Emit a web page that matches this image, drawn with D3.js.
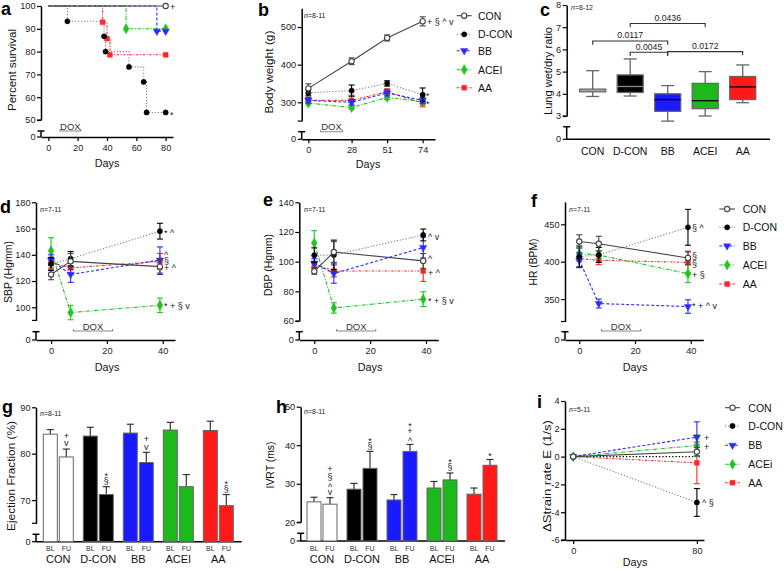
<!DOCTYPE html>
<html><head><meta charset="utf-8">
<script src="https://cdn.jsdelivr.net/npm/d3@7"></script>
<style>
body{margin:0;background:#fff;}
svg{font-family:"Liberation Sans",Arial,Helvetica,sans-serif;}
</style></head><body>
<svg id="c" width="784" height="571"></svg>
<script>
// ================= DATA =================
const groups  = ["CON","D-CON","BB","ACEI","AA"];
const groupsI = ["CON","D-CON","BB","ACEi","AA"];
const doxDays = [8, 22];

// a: Kaplan-Meier survival, [day, percent]
const survCON  = [[0,100],[80,100]];
const survDCON = [[0,100],[13,93.3],[38,86.7],[39,80],[55,73.3],[65,66.7],[67,53.3],[80,53.3]];
const survBB   = [[0,100],[74,88.9],[80,88.9]];
const survACEI = [[0,100],[53,90],[80,90]];
const survAA   = [[0,100],[37,92.9],[40,85.7],[42,78.6],[80,78.6]];
const survTicksX = [0,20,40,60,80];
const survTicksY = [50,60,70,80,90,100];

// b: body weight (g)
const bwDays = [0,28,51,74];
const bwCON  = [337,409,471,515], bwCONe  = [12,9,8,12];
const bwDCON = [325,331,350,320], bwDCONe = [8,15,7,18];
const bwBB   = [305,300,325,305], bwBBe   = [7,7,8,8];
const bwACEI = [298,286,313,302], bwACEIe = [5,5,6,6];
const bwAA   = [305,305,328,298], bwAAe   = [8,14,8,10];
const bwTicksY = [300,400,500];

// c: lung wet/dry ratio  [min, q1, median, q3, max]
const lungCON  = [3.88,4.09,4.17,4.21,5.04];
const lungDCON = [3.90,4.06,4.33,4.85,5.57];
const lungBB   = [2.77,3.21,3.74,4.00,4.37];
const lungACEI = [3.00,3.33,3.69,4.47,5.00];
const lungAA   = [3.60,3.74,4.31,4.78,5.30];
const lungTicksY = [3,4,5,6,7,8];
const lungPairs = [["CON","BB"],["D-CON","ACEI"],["D-CON","BB"],["BB","AA"]];
const lungPvals = ["0.0117","0.0436","0.0045","0.0172"];
const lungPlevels = [6.38,7.17,5.87,5.90];

// d, e, f: blood pressure & HR
const bpDays = [0,7,39];
const sbpCON  = [125,135,131],   sbpCONe  = [4,6,6];
const sbpDCON = [133,137,158],   sbpDCONe = [5,5.5,6];
const sbpBB   = [136,125,136],   sbpBBe   = [4,6,10];
const sbpACEI = [143,96,101.5],  sbpACEIe = [10,5.5,5.5];
const sbpAA   = [134,130,135],   sbpAAe   = [4,4,6];
const sbpTicksY = [100,120,140,160,180];

const dbpCON  = [93.5,106.5,100.5], dbpCONe  = [2,7,5];
const dbpDCON = [104.3,104.5,118],  dbpDCONe = [5,10,4];
const dbpBB   = [99,92,109.5],      dbpBBe   = [3,6.5,7];
const dbpACEI = [112.6,68.8,74.7],  dbpACEIe = [8.3,3.5,5];
const dbpAA   = [98.2,93.7,93.7],   dbpAAe   = [2,4,7];
const dbpTicksY = [60,80,100,120,140];

const hrCON  = [427,424,405], hrCONe  = [9,10,9];
const hrDCON = [407,409,446], hrDCONe = [14,10,24];
const hrBB   = [402,344,340], hrBBe   = [10,6,9];
const hrACEI = [411,409,384], hrACEIe = [8,6,12];
const hrAA   = [404,402,399], hrAAe   = [3,6,14];
const hrTicksY = [350,400,450];
const bpTicksX = [0,20,40];

// g: ejection fraction (%)
const efBL = [84.2,83.8,84.45,85.1,85.0], efBLe = [1.0,1.9,1.9,1.65,2.0];
const efFU = [79.3,71.2,78.1,72.9,68.8],  efFUe = [1.7,1.7,2.2,2.6,2.4];
const efSig = [["+","v"],["*","§"],["+","v"],[],["*","§"]];
const efTicksY = [70,80,90];

// h: IVRT (ms)
const ivBL = [25.3,28.6,25.8,28.9,27.3], ivBLe = [1.2,1.5,1.4,1.7,1.6];
const ivFU = [24.7,34.0,38.4,31.0,34.8], ivFUe = [1.7,4.4,1.8,1.8,1.5];
const ivSig = [["+","§","^","v"],["*","§"],["*","+","^"],["*","§"],["*"]];
const ivTicksY = [20,30,40,50];

// i: delta strain rate E (1/s)
const srDays = [0,80];
const srCON  = [0,0.35],  srCONe  = [0,0.3];
const srDCON = [0,-3.3],  srDCONe = [0,1.0];
const srBB   = [0,1.4],   srBBe   = [0,1.1];
const srACEI = [0,0.8],   srACEIe = [0,0.75];
const srAA   = [0,-0.45], srAAe   = [0,1.5];
const srTicksY = [-6,-4,-2,0,2,4];
const srTicksX = [0,80];

// ================= STYLE =================
const svg = d3.select("#c");
const TICK_FS = 9.2, TITLE_FS = 11, LEG_FS = 10.5, ANN_FS = 9;
const SER = [
  {stroke:"#444", lw:1.1, dash:null, mk:"circle", mfill:"#fff", mstroke:"#444", err:"#444", size:22},
  {stroke:"#808080", lw:1.1, dash:"1.2,1.8", mk:"circle", mfill:"#000", mstroke:"#000", err:"#000", size:22},
  {stroke:"#2b2bff", lw:1.1, dash:"3,2", mk:"tri", mfill:"#2b2bff", mstroke:"#2b2bff", err:"#2b2bff", size:24, rot:180},
  {stroke:"#22c422", lw:1.1, dash:"4,1.5,1,1.5", mk:"diamond", mfill:"#22c422", mstroke:"#22c422", err:"#22c422", size:30},
  {stroke:"#ff2424", lw:1.1, dash:"2.5,1.5,1,1.5", mk:"square", mfill:"#ff2424", mstroke:"#ff2424", err:"#ff2424", size:24}
];
const barFill = ["#ffffff","#000000","#1a1aff","#1cb81c","#ff1a1a"];
const DRAW_ORDER = [4,3,2,1,0];

function symPath(s){
  const t = {circle:d3.symbolCircle, square:d3.symbolSquare, diamond:d3.symbolDiamond, tri:d3.symbolTriangle}[s.mk];
  return d3.symbol().type(t).size(s.size)();
}
function marker(g, s, x, y){
  g.append("path").attr("d", symPath(s))
    .attr("transform", `translate(${x},${y})` + (s.rot ? ` rotate(${s.rot})` : ""))
    .attr("fill", s.mfill).attr("stroke", s.mstroke)
    .attr("stroke-width", s.mfill === "#fff" ? 1.1 : 0.4);
}
function axisStyle(sel){
  sel.select(".domain").attr("stroke","#000").attr("stroke-width",1.5);
  sel.selectAll(".tick line").attr("stroke","#000").attr("stroke-width",1.2);
  sel.selectAll(".tick text").attr("font-size",TICK_FS).attr("fill","#222")
    .attr("font-family",'"Liberation Sans",Arial,sans-serif');
}
function brokenYAxis(x0, y, ticks, cap, zero){
  const g = svg.append("g");
  const ax = g.append("g").attr("transform",`translate(${x0},0)`)
    .call(d3.axisLeft(y).tickValues(ticks).tickSize(4).tickPadding(1.5).tickSizeOuter(0).tickFormat(d=>String(d)));
  axisStyle(ax);
  const yb = Math.max(...y.range());
  g.append("line").attr("x1",x0-4).attr("x2",x0).attr("y1",yb).attr("y2",yb).attr("stroke","#000").attr("stroke-width",1.2);
  if(cap != null){
    g.append("line").attr("x1",x0).attr("x2",x0).attr("y1",cap).attr("y2",zero).attr("stroke","#000").attr("stroke-width",1.5);
    g.append("line").attr("x1",x0-3.5).attr("x2",x0+3.5).attr("y1",cap).attr("y2",cap).attr("stroke","#000").attr("stroke-width",1.5);
    g.append("line").attr("x1",x0-4).attr("x2",x0).attr("y1",zero).attr("y2",zero).attr("stroke","#000").attr("stroke-width",1.2);
    g.append("text").attr("x",x0-5.5).attr("y",zero).attr("text-anchor","end").attr("dominant-baseline","central")
      .attr("font-size",TICK_FS).attr("fill","#222").text("0");
  }
}
function timeXAxis(x, zero, ticks){
  const ax = svg.append("g").attr("transform",`translate(0,${zero})`)
    .call(d3.axisBottom(x).tickValues(ticks).tickSize(4).tickPadding(3).tickSizeOuter(0).tickFormat(d=>String(d)));
  axisStyle(ax);
}
function plainXAxis(x1, x2, yy){
  svg.append("line").attr("x1",x1).attr("x2",x2).attr("y1",yy).attr("y2",yy).attr("stroke","#000").attr("stroke-width",1.5);
}
function text(x, y, str, opt={}){
  const t = svg.append("text").attr("x",x).attr("y",y).attr("font-size",opt.size||TITLE_FS)
    .attr("fill",opt.fill||"#111").attr("text-anchor",opt.anchor||"start")
    .attr("dominant-baseline",opt.baseline||"central");
  if(opt.weight) t.attr("font-weight",opt.weight);
  if(opt.len) t.attr("textLength",opt.len).attr("lengthAdjust","spacingAndGlyphs");
  if(opt.rotate) t.attr("transform",`rotate(-90,${x},${y})`);
  t.text(str);
  return t;
}
function yTitle(x, y, str, len){ text(x, y, str, {anchor:"middle", rotate:true, len:len, size:11}); }
function xTitle(x, y){ text(x, y, "Days", {anchor:"middle", size:10.8}); }
function panelLetter(x, y, str){ text(x, y, str, {size:18, weight:"bold", baseline:"alphabetic", fill:"#000"}); }
function nText(x, y, str){
  const t = svg.append("text").attr("x",x).attr("y",y).attr("font-size",7).attr("fill","#222").attr("dominant-baseline","central");
  t.append("tspan").attr("font-style","italic").text("n");
  t.append("tspan").text("=" + str);
}
function dox(x, yLine){
  const x1 = x(doxDays[0]), x2 = x(doxDays[1]);
  svg.append("path").attr("d",`M${x1},${yLine-2}V${yLine}H${x2}V${yLine-2}`).attr("fill","none").attr("stroke","#888").attr("stroke-width",1.1);
  text((x1+x2)/2, yLine-5, "DOX", {size:9.5, anchor:"middle", fill:"#333"});
}
function drawSeries(x, y, days, vals, errs, s){
  const g = svg.append("g");
  const line = d3.line().x((d,i)=>x(days[i])).y(d=>y(d));
  g.append("path").datum(vals).attr("d",line).attr("fill","none").attr("stroke",s.stroke)
    .attr("stroke-width",s.lw).attr("stroke-dasharray",s.dash);
  vals.forEach((v,i)=>{
    const e = errs[i]; if(!e) return;
    const xx = x(days[i]);
    g.append("line").attr("x1",xx).attr("x2",xx).attr("y1",y(v-e)).attr("y2",y(v+e)).attr("stroke",s.err).attr("stroke-width",1.1);
    [v-e, v+e].forEach(w=> g.append("line").attr("x1",xx-3).attr("x2",xx+3).attr("y1",y(w)).attr("y2",y(w)).attr("stroke",s.err).attr("stroke-width",1.1));
  });
  vals.forEach((v,i)=> marker(g, s, x(days[i]), y(v)));
}
function legend(x1, x2, xt, ys, names){
  names.forEach((n,i)=>{
    const s = SER[i];
    svg.append("line").attr("x1",x1).attr("x2",x2).attr("y1",ys[i]).attr("y2",ys[i]).attr("stroke",s.stroke)
      .attr("stroke-width",s.lw).attr("stroke-dasharray",s.dash);
    marker(svg, s, (x1+x2)/2, ys[i]);
    text(xt, ys[i], n, {size:LEG_FS});
  });
}
function annot(x, y, str){ text(x, y+1, str, {size:ANN_FS, fill:"#222"}); }
function stack(cx, bottomY, syms){
  if(!syms.length) return;
  const t = svg.append("text").attr("font-size",ANN_FS).attr("text-anchor","middle").attr("fill","#222");
  const n = syms.length;
  syms.forEach((s,m)=>{
    const c = bottomY - (n-1-m)*7.5 + ((s==="*"||s==="^") ? 2.5 : 0);
    t.append("tspan").attr("x",cx).attr("y",c+3.2).text(s);
  });
}

// ================= PANEL a =================
{
  const x = d3.scaleLinear().domain([-5,85]).range([41,173]);
  const y = d3.scaleLinear().domain([50,100]).range([120,6]);
  brokenYAxis(41, y, survTicksY, 131, 137);
  timeXAxis(x, 137, survTicksX);
  const sets = [survCON, survDCON, survBB, survACEI, survAA];
  DRAW_ORDER.forEach(k=>{
    const s = SER[k], d = sets[k];
    const g = svg.append("g");
    g.append("path").datum(d).attr("d", d3.line().curve(d3.curveStepAfter).x(p=>x(p[0])).y(p=>y(p[1])))
      .attr("fill","none").attr("stroke",s.stroke).attr("stroke-width",s.lw).attr("stroke-dasharray",s.dash);
    d.slice(1).forEach(p=>{ if(k===0 && p[0]!==80) return; marker(g, s, x(p[0]), y(p[1])); });
  });
  annot(170, 6, "+");
  annot(170, 114, "*");
  dox(x, 131);
  yTitle(12, 70, "Percent survival", 82);
  xTitle(107, 163);
  panelLetter(1, 15, "a");
}

// ================= PANEL b =================
{
  const x = d3.scaleLinear().domain([-4.3,82]).range([301.7,435]);
  const y = d3.scaleLinear().domain([250,550]).range([121.1,8.2]);
  brokenYAxis(301.7, y, bwTicksY, 131.7, 139.3);
  timeXAxis(x, 139.3, bwDays);
  const sets = [[bwCON,bwCONe],[bwDCON,bwDCONe],[bwBB,bwBBe],[bwACEI,bwACEIe],[bwAA,bwAAe]];
  DRAW_ORDER.forEach(k=> drawSeries(x, y, bwDays, sets[k][0], sets[k][1], SER[k]));
  annot(427, 21, "+ § ^ v");
  annot(426, 95, "*");
  annot(426, 103, "*");
  dox(x, 131.7);
  nText(304, 15, "8-11");
  legend(456.7, 471.7, 478, [15.7,34.3,50.7,69.7,87.7], groups);
  yTitle(268.5, 72, "Body weight (g)", 83);
  xTitle(368, 164);
  panelLetter(258, 16, "b");
}

// ================= PANEL c =================
{
  const x = d3.scalePoint().domain(groups).range([592.7,742.7]);
  const y = d3.scaleLinear().domain([3,8]).range([116,5]);
  brokenYAxis(566.7, y, lungTicksY, 126.7, 139.3);
  plainXAxis(566.7, 770, 139.3);
  const sets = [lungCON,lungDCON,lungBB,lungACEI,lungAA];
  const med = ["#777","#888","#000","#000","#000"];
  groups.forEach((gname,i)=>{
    const b = sets[i], cx = x(gname), bw = 26, cw = 13;
    const g = svg.append("g");
    g.append("line").attr("x1",cx).attr("x2",cx).attr("y1",y(b[0])).attr("y2",y(b[4])).attr("stroke","#666").attr("stroke-width",1.3);
    [b[0],b[4]].forEach(v=> g.append("line").attr("x1",cx-cw/2).attr("x2",cx+cw/2).attr("y1",y(v)).attr("y2",y(v)).attr("stroke","#666").attr("stroke-width",1.3));
    g.append("rect").attr("x",cx-bw/2).attr("width",bw).attr("y",y(b[3])).attr("height",y(b[1])-y(b[3]))
      .attr("fill",barFill[i]).attr("stroke","#666").attr("stroke-width",1.3);
    g.append("line").attr("x1",cx-bw/2).attr("x2",cx+bw/2).attr("y1",y(b[2])).attr("y2",y(b[2])).attr("stroke",med[i]).attr("stroke-width",1.3);
    text(cx, 151, gname, {size:LEG_FS, anchor:"middle"});
  });
  lungPairs.forEach((p,i)=>{
    const x1 = x(p[0]), x2 = x(p[1]), yy = y(lungPlevels[i]);
    svg.append("path").attr("d",`M${x1},${yy+3.7}V${yy}H${x2}V${yy+3.7}`).attr("fill","none").attr("stroke","#333").attr("stroke-width",1.1);
    text((x1+x2)/2, yy-5.5, lungPvals[i], {size:8.7, anchor:"middle", fill:"#222"});
  });
  nText(571, 7, "8-12");
  yTitle(548.3, 71, "Lung wet/dry ratio", 88);
  panelLetter(540, 16, "c");
}

// ================= PANELS d, e, f =================
function bpPanel(cfg){
  const x = d3.scaleLinear().domain(cfg.xd).range(cfg.xr);
  const y = d3.scaleLinear().domain(cfg.yd).range(cfg.yr);
  brokenYAxis(cfg.xr[0], y, cfg.ticks, 331.7, 340);
  timeXAxis(x, 340, bpTicksX);
  DRAW_ORDER.forEach(k=> drawSeries(x, y, bpDays, cfg.sets[k][0], cfg.sets[k][1], SER[k]));
  dox(x, 331);
  return x;
}
{
  bpPanel({xd:[-5.4,44.4], xr:[36,175], yd:[90,180], yr:[320.4,202.3], ticks:sbpTicksY,
    sets:[[sbpCON,sbpCONe],[sbpDCON,sbpDCONe],[sbpBB,sbpBBe],[sbpACEI,sbpACEIe],[sbpAA,sbpAAe]]});
  annot(164, 232, "* ^");
  annot(164, 254, "^");
  annot(164, 260, "§");
  annot(164, 267, "+ ^");
  annot(164, 305, "* + § v");
  nText(40, 209, "7-11");
  yTitle(8, 272, "SBP (Hgmm)", 62);
  xTitle(107, 367);
  panelLetter(0, 213, "d");
}
{
  bpPanel({xd:[-5.37,44.4], xr:[299.3,438.3], yd:[60,140], yr:[321,202.3], ticks:dbpTicksY,
    sets:[[dbpCON,dbpCONe],[dbpDCON,dbpDCONe],[dbpBB,dbpBBe],[dbpACEI,dbpACEIe],[dbpAA,dbpAAe]]});
  annot(428, 236, "^ v");
  annot(428, 258, "^");
  annot(428, 272, "+ ^");
  annot(428, 300, "* + § v");
  nText(304, 209, "7-11");
  yTitle(268, 265, "DBP (Hgmm)", 62);
  xTitle(370, 367);
  panelLetter(263, 206, "e");
}
{
  bpPanel({xd:[-5.12,44.5], xr:[565,703.3], yd:[320,480], yr:[321.5,201.9], ticks:hrTicksY,
    sets:[[hrCON,hrCONe],[hrDCON,hrDCONe],[hrBB,hrBBe],[hrACEI,hrACEIe],[hrAA,hrAAe]]});
  annot(692, 227, "§ ^");
  annot(692, 255, "§");
  annot(692, 263, "§");
  annot(692, 274, "+ §");
  annot(692, 305, "* + ^ v");
  nText(569, 209, "7-11");
  legend(719.3, 735, 742.7, [209,227.3,246,265,284], groups);
  yTitle(533, 262, "HR (BPM)", 47);
  xTitle(635, 367);
  panelLetter(531, 207, "f");
}

// ================= PANELS g, h =================
function barPanel(cfg){
  const y = d3.scaleLinear().domain(cfg.yd).range(cfg.yr);
  brokenYAxis(cfg.x0, y, cfg.ticks, cfg.cap, cfg.zero);
  plainXAxis(cfg.x0, cfg.xEnd, cfg.zero);
  const xg = d3.scaleBand().domain(groups).range(cfg.range);
  const xs = d3.scaleBand().domain(["BL","FU"]).range([0,30]).paddingInner(0.125);
  groups.forEach((gname,i)=>{
    const g = svg.append("g");
    ["BL","FU"].forEach((k,j)=>{
      const v = j ? cfg.FU[i] : cfg.BL[i], e = j ? cfg.FUe[i] : cfg.BLe[i];
      const bx = xg(gname) + 5 + xs(k), bw = xs.bandwidth(), cx = bx + bw/2;
      g.append("line").attr("x1",cx).attr("x2",cx).attr("y1",y(v)).attr("y2",y(v+e)).attr("stroke","#333").attr("stroke-width",1.2);
      g.append("line").attr("x1",cx-3.5).attr("x2",cx+3.5).attr("y1",y(v+e)).attr("y2",y(v+e)).attr("stroke","#333").attr("stroke-width",1.2);
      g.append("rect").attr("x",bx).attr("width",bw).attr("y",y(v)).attr("height",cfg.zero-y(v))
        .attr("fill",barFill[i]).attr("stroke","#666").attr("stroke-width",1);
      text(cx, cfg.zero+7, k, {size:7, anchor:"middle", fill:"#333"});
      if(j===1) stack(cx, y(v+e) - 6, cfg.sig[i]);
    });
    text(xg(gname)+20, cfg.zero+17.5, gname, {anchor:"middle", size:11});
  });
}
{
  barPanel({x0:36, xEnd:241.7, yd:[65,90], yr:[523.3,407.3], ticks:efTicksY, cap:534.3, zero:541.7,
    range:[38.3,238.3], BL:efBL, BLe:efBLe, FU:efFU, FUe:efFUe, sig:efSig});
  nText(40, 412.5, "8-11");
  yTitle(11, 476, "Ejection Fraction (%)", 110);
  panelLetter(2, 413, "g");
}
{
  barPanel({x0:300.7, xEnd:505, yd:[20,50], yr:[522.3,406.7], ticks:ivTicksY, cap:533.3, zero:541,
    range:[302,502], BL:ivBL, BLe:ivBLe, FU:ivFU, FUe:ivFUe, sig:ivSig});
  nText(304, 411, "8-11");
  yTitle(270, 465, "IVRT (ms)", 47);
  panelLetter(276, 413, "h");
}

// ================= PANEL i =================
{
  const x = d3.scaleLinear().domain([-5.3,84.6]).range([565,704]);
  const y = d3.scaleLinear().domain([-6,4]).range([540,401]);
  brokenYAxis(565, y, srTicksY, null, null);
  timeXAxis(x, 540, srTicksX);
  svg.append("line").attr("x1",x(0)).attr("x2",x(83)).attr("y1",y(0)).attr("y2",y(0))
    .attr("stroke","#000").attr("stroke-width",1.3).attr("stroke-dasharray","1.3,2");
  const sets = [[srCON,srCONe],[srDCON,srDCONe],[srBB,srBBe],[srACEI,srACEIe],[srAA,srAAe]];
  DRAW_ORDER.forEach(k=> drawSeries(x, y, srDays, sets[k][0], sets[k][1], SER[k]));
  annot(704, 437, "+");
  annot(704, 446, "+");
  annot(702, 502, "^ §");
  nText(569, 408.5, "5-11");
  legend(725, 740, 748.3, [407.7,426,445.3,464.3,482.7], groupsI);
  yTitle(547, 476, "ΔStrain rate E (1/s)", 112);
  xTitle(635, 562);
  panelLetter(537, 408, "i");
}
</script>
</body></html>
